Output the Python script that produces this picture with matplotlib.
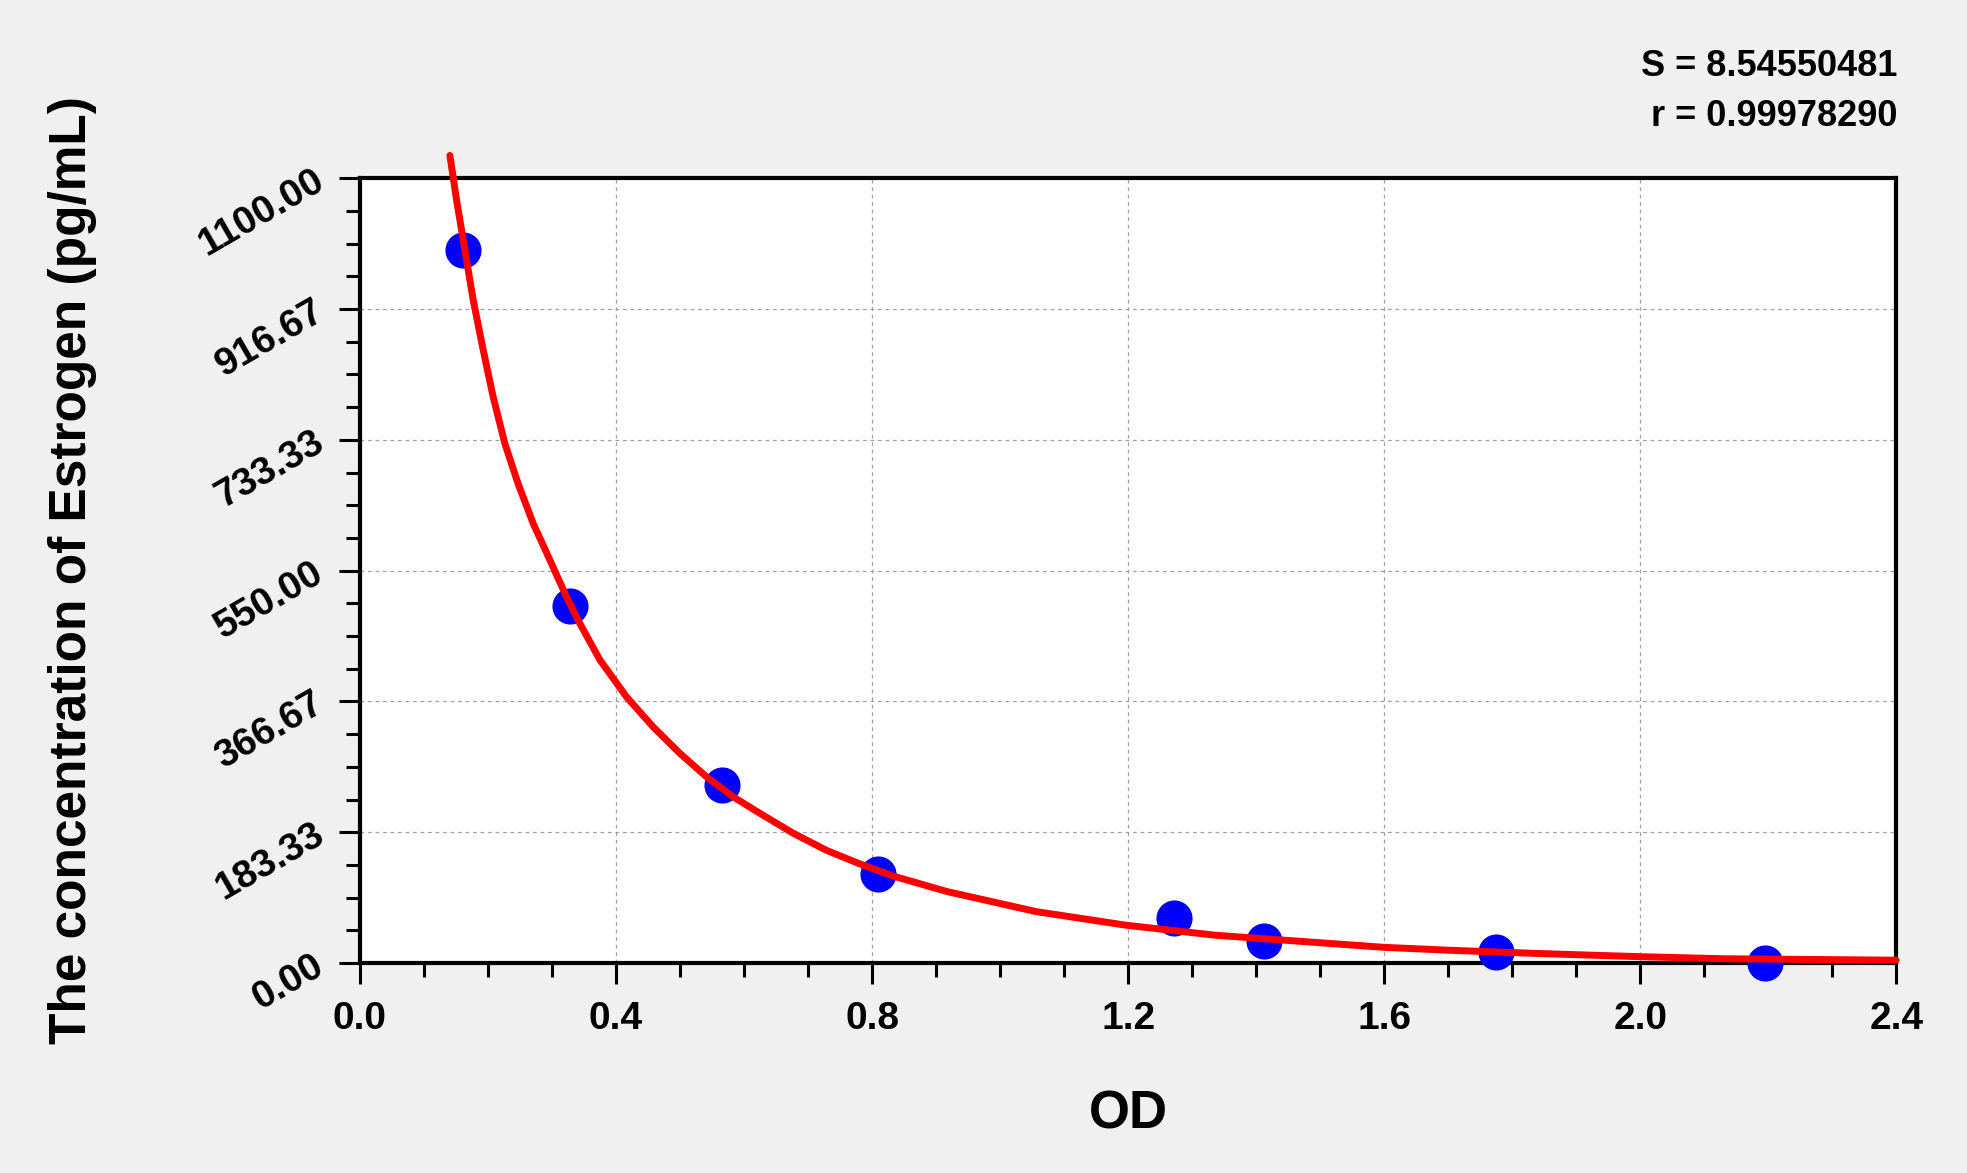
import matplotlib
matplotlib.use('Agg')
import matplotlib.pyplot as plt
from matplotlib.ticker import MultipleLocator, FixedLocator, FormatStrFormatter

# Standard points (OD vs concentration)
od_points = [0.161, 0.328, 0.566, 0.809, 1.272, 1.413, 1.775, 2.195]
conc_points = [1000, 500, 250, 125, 62.5, 31.25, 15.625, 0]

# Fitted curve
curve_od = [0.1405, 0.151, 0.164, 0.177, 0.1926, 0.208, 0.2264, 0.247,
            0.2707, 0.2967, 0.3228, 0.3435, 0.3748, 0.4165, 0.458, 0.4997,
            0.5414, 0.583, 0.6246, 0.6767, 0.7288, 0.7808, 0.8328, 0.918,
            1.057, 1.197, 1.336, 1.476, 1.60, 1.70, 1.833, 2.0, 2.131,
            2.27, 2.4]
curve_conc = [1132, 1069, 999, 929, 859, 794, 728, 672,
              616, 565, 513, 476, 425, 373, 331, 294,
              261, 233, 210, 182, 158, 139, 122, 100,
              72, 53, 39, 30, 22, 18, 13.6, 8.9, 6.0,
              5.0, 4.0]

y_ticks = [0, 183.33, 366.67, 550, 733.33, 916.67, 1100]
s_text = "S = 8.54550481"
r_text = "r = 0.99978290"

plt.rcParams['font.family'] = ['Liberation Sans', 'DejaVu Sans']
plt.rcParams['font.weight'] = 'bold'

W, H = 1967, 1173
fig = plt.figure(figsize=(W / 100, H / 100), dpi=100, facecolor='#f0f0f0')
ax = fig.add_axes([0.183, 0.179, 0.781, 0.669])
ax.set_facecolor('white')

ax.plot(od_points, conc_points, 'o', color='#0000ff', ms=25, zorder=3,
        clip_on=False)
ax.plot(curve_od, curve_conc, '-', color='#ff0000', lw=5, zorder=4,
        clip_on=False, solid_capstyle='round', solid_joinstyle='round')

ax.set_xlim(0, 2.4)
ax.set_ylim(0, 1100)
ax.xaxis.set_major_locator(MultipleLocator(0.4))
ax.xaxis.set_minor_locator(MultipleLocator(0.1))
ax.xaxis.set_major_formatter(FormatStrFormatter('%.1f'))
ax.yaxis.set_major_locator(FixedLocator(y_ticks))
ax.yaxis.set_minor_locator(MultipleLocator(1100 / 24))
ax.set_yticklabels(['%.2f' % v for v in y_ticks])

ax.grid(True, which='major', color='#a0a0a0', lw=0.9, ls=(0, (3, 3)))
ax.set_axisbelow(True)

for s in ax.spines.values():
    s.set_linewidth(3)
ax.tick_params(which='major', direction='out', length=15, width=2.2,
               labelsize=28)
ax.tick_params(which='minor', direction='out', length=10, width=2.2)
ax.tick_params(axis='x', pad=12)
ax.tick_params(axis='y', pad=13)

for lab in ax.get_yticklabels():
    lab.set_rotation(30)
    lab.set_rotation_mode('anchor')
    lab.set_ha('right')
    lab.set_va('center')
    lab.set_fontweight('bold')
for lab in ax.get_xticklabels():
    lab.set_fontweight('bold')

ax.set_xlabel('OD', fontsize=38, fontweight='bold', labelpad=38)
fig.text(73 / W, 1 - 570 / H, 'The concentration of Estrogen (pg/mL)',
         rotation=90, ha='center', va='center', fontsize=37,
         fontweight='bold')

fig.text(1897 / W, 1 - 76 / H, s_text, ha='right', va='baseline',
         fontsize=26, fontweight='bold')
fig.text(1897 / W, 1 - 126 / H, r_text, ha='right', va='baseline',
         fontsize=26, fontweight='bold')

fig.savefig('out.png', dpi=100, facecolor=fig.get_facecolor())
